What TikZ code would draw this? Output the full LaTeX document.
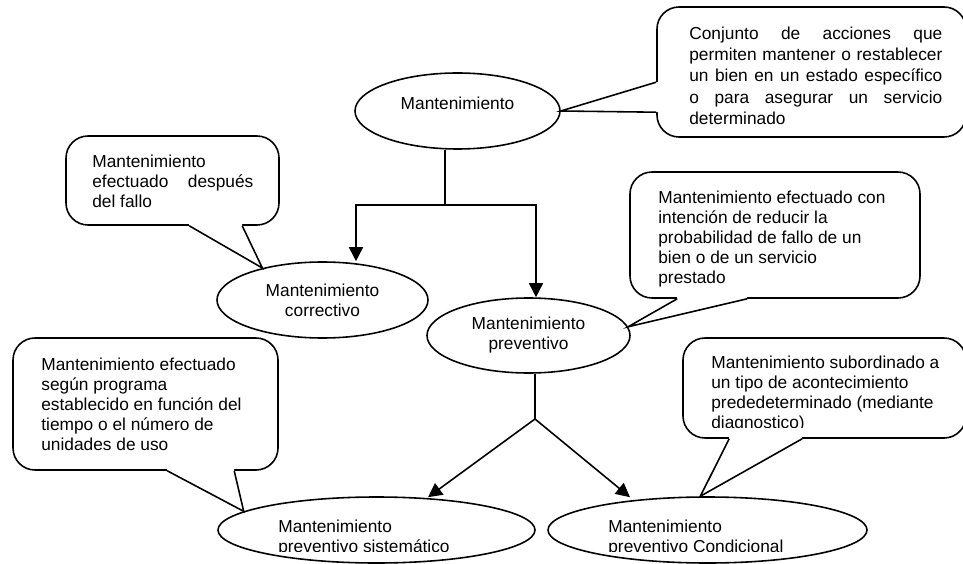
\documentclass[tikz,border=0pt]{standalone}
\usepackage{fontspec}
\setmainfont{Liberation Sans}
\usetikzlibrary{shapes.geometric,arrows.meta,calc}

\tikzset{
  elip/.style={draw, ellipse, line width=0.9pt, inner sep=0pt, align=center},
  bubble/.style={draw, rectangle, rounded corners=0.44cm, line width=0.9pt, fill=white, inner sep=0pt},
  txt/.style={inner sep=0pt, align=left, anchor=north west},
  link/.style={line width=0.9pt},
  arr/.style={line width=0.9pt, -{Triangle[length=0.28cm,width=0.28cm]}},
  wedge/.style={line width=0.9pt}
}

\begin{document}
\begin{tikzpicture}[scale=0.2, font=\fontsize{9.85}{11.4}\selectfont]
  \useasboundingbox (0,0) rectangle (96.3,-56.4);
  \clip (0,0) rectangle (96.3,-56.4);
  % ellipses
  \node[elip, minimum width=4.1cm, minimum height=1.52cm] (mant) at (45.75,-11.1) {};
  \node[txt, anchor=north] (mantText) at (45.75,-9.62) {Mantenimiento};
  \node[elip, minimum width=4.22cm, minimum height=1.52cm] (corr) at (32.25,-30.0) {Mantenimiento\\correctivo};
  \node[elip, minimum width=4.06cm, minimum height=1.5cm] (prev) at (52.85,-33.55) {Mantenimiento\\preventivo};
  \node[elip, minimum width=6.34cm, minimum height=1.32cm] (sis) at (37.65,-53.0) {};
  \node[elip, minimum width=6.38cm, minimum height=1.32cm] (cond) at (70.75,-53.0) {};
  \begin{scope}
    \clip (20,-50) rectangle (90,-55.1);
    \node[txt] (sisText) at (27.8,-52.0) {Mantenimiento\\preventivo sistemático};
    \node[txt] (condText) at (60.8,-52.0) {Mantenimiento\\preventivo Condicional};
  \end{scope}

  % connectors
  \coordinate (split) at (44.5,-20.5);
  \coordinate (fork) at (53.5,-41.9);
  \draw[link] (split |- mant.south) -- (split);
  \draw[arr] (split) -| ($(corr.north)+(3.35,0)$);
  \draw[arr] (split) -| ($(prev.north)+(0.75,0)$);
  \draw[link] (fork |- prev.south) -- (fork);
  \draw[arr] (fork) -- ($(sis.north)+(5.15,-0.1)$);
  \draw[arr] (fork) -- ($(cond.north)+(-7.75,-0.1)$);

  % notes
  \node[bubble, minimum width=6.18cm, minimum height=2.6cm] (noteMant) at (81.15,-7.2) {};
  \node[txt, font=\fontsize{9.85}{12.1}\selectfont] (noteMantText) at (68.9,-2.65) {\makebox[5.06cm][s]{Conjunto de acciones que}\\ \makebox[5.06cm][s]{permiten mantener o restablecer}\\ \makebox[5.06cm][s]{un bien en un estado específico}\\ \makebox[5.06cm][s]{o para asegurar un servicio}\\ determinado};
  \node[bubble, minimum width=4.26cm, minimum height=1.78cm] (noteCorr) at (17.25,-18.05) {};
  \node[txt] (noteCorrText) at (9.2,-15.5) {Mantenimiento\\ \makebox[3.22cm][s]{efectuado después}\\ del fallo};
  \node[bubble, minimum width=5.8cm, minimum height=2.52cm] (notePrev) at (77.5,-23.5) {};
  \node[txt] (notePrevText) at (65.8,-19.05) {Mantenimiento efectuado con\\ intención de reducir la\\ probabilidad de fallo de un\\ bien o de un servicio\\ prestado};
  \node[bubble, minimum width=5.3cm, minimum height=2.64cm] (noteSis) at (14.55,-40.4) {};
  \node[txt] (noteSisText) at (4.1,-35.75) {Mantenimiento efectuado\\ según programa\\ establecido en función del\\ tiempo o el número de\\ unidades de uso};
  \node[bubble, minimum width=5.66cm, minimum height=2.0cm] (noteCond) at (82.45,-38.8) {};
  \begin{scope}
    \clip (70,-34) rectangle (96.3,-42.7);
    \node[txt] (noteCondText) at (71.1,-35.6) {Mantenimiento subordinado a\\ un tipo de acontecimiento\\ prededeterminado (mediante\\ diagnostico)};
  \end{scope}

  % pointers
  \coordinate (m1) at ($(noteMant.north west)+(0,-7.6)$);
  \coordinate (m2) at ($(noteMant.north west)+(0,-10.6)$);
  \fill[white] ($(m1)+(0.2,0)$) -- (m1) -- (mant.east) -- (m2) -- ($(m2)+(0.2,0)$) -- cycle;
  \draw[wedge] (m1) -- (mant.east) -- (m2);
  \coordinate (c1) at ($(noteCorr.south west)+(12.4,0)$);
  \coordinate (c2) at ($(noteCorr.south west)+(17.7,0)$);
  \fill[white] ($(c1)+(0,0.2)$) -- (c1) -- (corr.152) -- (c2) -- ($(c2)+(0,0.2)$) -- cycle;
  \draw[wedge] (c1) -- (corr.152) -- (c2);
  \coordinate (p1) at ($(notePrev.south west)+(4.8,0)$);
  \coordinate (p2) at ($(notePrev.south west)+(11.8,0)$);
  \fill[white] ($(p1)+(0,0.2)$) -- (p1) -- (prev.5) -- (p2) -- ($(p2)+(0,0.2)$) -- cycle;
  \draw[wedge] (p1) -- (prev.5) -- (p2);
  \coordinate (s1) at ($(noteSis.south west)+(15.5,0)$);
  \coordinate (s2) at ($(noteSis.south west)+(22.2,0)$);
  \fill[white] ($(s1)+(0,0.2)$) -- (s1) -- (sis.172) -- (s2) -- ($(s2)+(0,0.2)$) -- cycle;
  \draw[wedge] (s1) -- (sis.172) -- (s2);
  \coordinate (k1) at ($(noteCond.south west)+(4.7,0)$);
  \coordinate (k2) at ($(noteCond.south west)+(12.0,0)$);
  \fill[white] ($(k1)+(0,0.2)$) -- (k1) -- (cond.102) -- (k2) -- ($(k2)+(0,0.2)$) -- cycle;
  \draw[wedge] (k1) -- (cond.102) -- (k2);
\end{tikzpicture}
\end{document}
